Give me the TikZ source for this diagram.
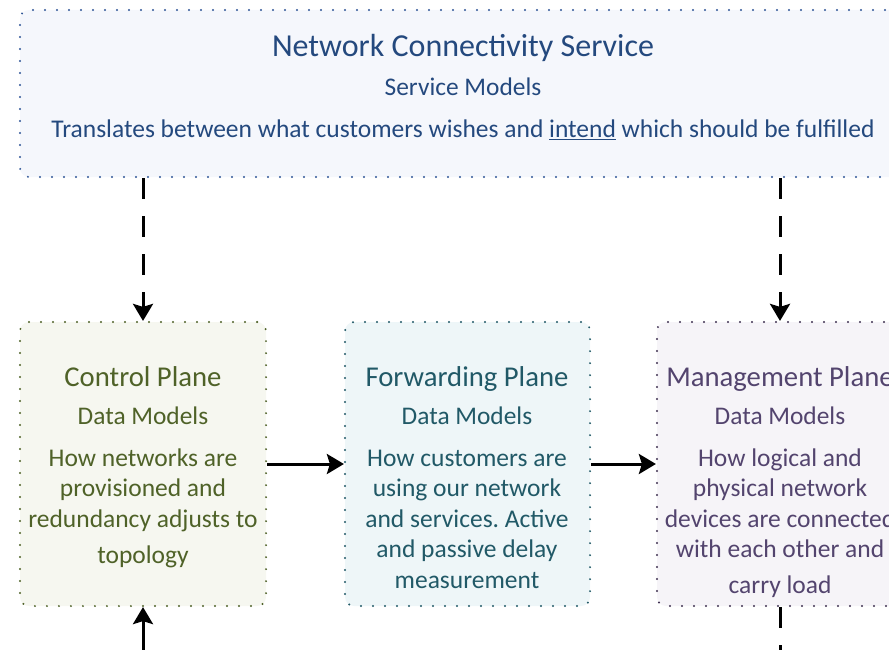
\documentclass[tikz,border=0pt]{standalone}
\usepackage{fontspec}
\setmainfont{Carlito}
\usetikzlibrary{arrows.meta}
\definecolor{topfill}{HTML}{F5F7FC}
\definecolor{topline}{HTML}{2F5597}
\definecolor{toptext}{HTML}{24497E}
\definecolor{cfill}{HTML}{F6F7F0}
\definecolor{cline}{HTML}{4F6228}
\definecolor{ctext}{HTML}{4F6228}
\definecolor{ffill}{HTML}{EEF6F8}
\definecolor{fline}{HTML}{215967}
\definecolor{ftext}{HTML}{215967}
\definecolor{mfill}{HTML}{F6F4F8}
\definecolor{mline}{HTML}{3F3151}
\definecolor{mtext}{HTML}{53446E}
\frenchspacing
\tikzset{
  panel/.style={draw, rounded corners=9pt, line width=2.2pt, line cap=round,
    dash pattern=on 0pt off 12pt, inner sep=0pt},
  ttl/.style={anchor=base, inner sep=0pt, font=\fontsize{28.7}{30}\selectfont},
  sub/.style={anchor=base, inner sep=0pt, font=\fontsize{25.4}{27}\selectfont},
  body/.style={anchor=base, inner sep=0pt, font=\fontsize{25.5}{27}\selectfont},
  conn/.style={line width=3pt, -{Stealth[length=17pt,width=20pt,inset=3pt]}},
  dconn/.style={conn, dash pattern=on 21pt off 17pt},
}
\begin{document}
\begin{tikzpicture}[x=1pt,y=-1pt]
\useasboundingbox (0,0) rectangle (889,650);
% panels
\node[panel, draw=topline, fill=topfill, minimum width=886pt, minimum height=167pt] (top) at (463,93.5) {};
\node[panel, draw=cline, fill=cfill, minimum width=246pt, minimum height=284pt] (ctrl) at (143,464) {};
\node[panel, draw=fline, fill=ffill, minimum width=245pt, minimum height=284pt] (fwd) at (467.5,464) {};
\node[panel, draw=mline, fill=mfill, minimum width=248pt, minimum height=284pt] (mgmt) at (781,464) {};
% top text
\node[ttl, text=toptext, font=\fontsize{32}{34}\selectfont] (t1) at (463,57) {Network Connectivity Service};
\node[sub, text=toptext] (t2) at (463,96) {Service Models};
\node[body, text=toptext] (t3) at (463,138) {Translates between what customers wishes and \underline{intend} which should be fulfilled};
% control text
\node[ttl, text=ctext] (c1) at (143,386) {Control Plane};
\node[sub, text=ctext] (c2) at (143,424) {Data Models};
\node[body, text=ctext] (c3) at (143,466) {How networks are};
\node[body, text=ctext] (c4) at (143,496) {provisioned and};
\node[body, text=ctext] (c5) at (143,527) {redundancy adjusts to};
\node[body, text=ctext] (c6) at (143,563) {topology};
% forwarding text
\node[ttl, text=ftext] (f1) at (467,386) {Forwarding Plane};
\node[sub, text=ftext] (f2) at (467,424) {Data Models};
\node[body, text=ftext] (f3) at (467,466) {How customers are};
\node[body, text=ftext] (f4) at (467,496) {using our network};
\node[body, text=ftext] (f5) at (467,527) {and services. Active};
\node[body, text=ftext] (f6) at (467,557) {and passive delay};
\node[body, text=ftext] (f7) at (467,588) {measurement};
% management text
\node[ttl, text=mtext] (m1) at (780,386) {Management Plane};
\node[sub, text=mtext] (m2) at (780,424) {Data Models};
\node[body, text=mtext] (m3) at (780,466) {How logical and};
\node[body, text=mtext] (m4) at (780,496) {physical network};
\node[body, text=mtext] (m5) at (780,527) {devices are connected};
\node[body, text=mtext] (m6) at (780,557) {with each other and};
\node[body, text=mtext] (m7) at (780,593) {carry load};
% connectors
\coordinate (bin) at (143,650);
\coordinate (bout) at (780,650);
\draw[dconn] (ctrl.north |- top.south) -- (ctrl.north);
\draw[dconn] ([xshift=-1pt]mgmt.north |- top.south) -- ([xshift=-1pt]mgmt.north);
\draw[conn] (ctrl.east) -- (fwd.west);
\draw[conn] (fwd.east) -- (mgmt.west);
\draw[conn] (bin) -- (ctrl.south);
\draw[line width=3pt, dash pattern=on 21pt off 17pt] ([xshift=-1pt]mgmt.south) -- (bout);
\end{tikzpicture}
\end{document}
